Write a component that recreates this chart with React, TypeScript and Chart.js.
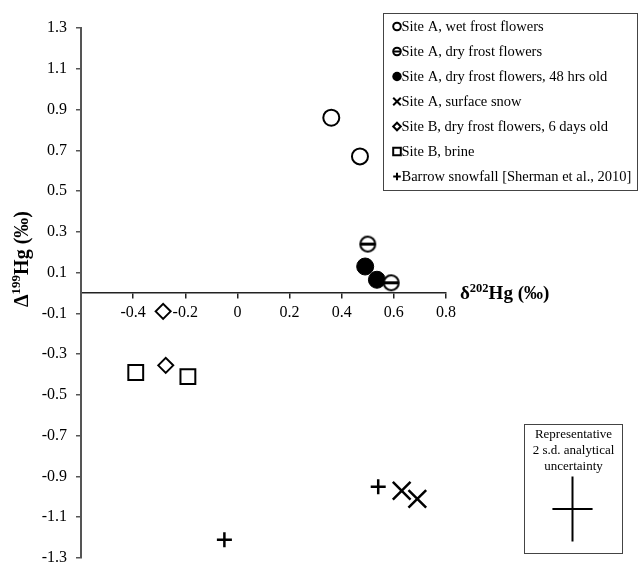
import React, { useEffect, useRef } from 'react';
import { Chart, registerables } from 'chart.js';

Chart.register(...registerables);

// ---------- data ----------
const seriesLabels = [
  'Site A, wet frost flowers',
  'Site A, dry frost flowers',
  'Site A, dry frost flowers, 48 hrs old',
  'Site A, surface snow',
  'Site B, dry frost flowers, 6 days old',
  'Site B, brine',
  'Barrow snowfall [Sherman et al., 2010]',
];
const wetX = [0.36, 0.47];
const wetY = [0.86, 0.67];
const dryX = [0.5, 0.59];
const dryY = [0.24, 0.05];
const old48X = [0.49, 0.535];
const old48Y = [0.13, 0.065];
const snowX = [0.63, 0.69];
const snowY = [-0.97, -1.01];
const siteBffX = [-0.285, -0.275];
const siteBffY = [-0.09, -0.355];
const brineX = [-0.39, -0.19];
const brineY = [-0.39, -0.41];
const barrowX = [0.54, -0.05];
const barrowY = [-0.95, -1.21];

const xTickMin = -0.6;
const xTickMax = 0.8;
const yTickMin = -1.3;
const yTickMax = 1.3;
const tickStep = 0.2;

const uncertaintyLines = ['Representative', '2 s.d. analytical', 'uncertainty'];
const uncertaintyHalfX = 0.077;
const uncertaintyHalfY = 0.16;

const FONT = '"Liberation Serif", "Times New Roman", serif';

const zip = (xs: number[], ys: number[]) => xs.map((x, i) => ({ x, y: ys[i] }));

function thetaImage(r: number, lw: number, bar: number) {
  const size = Math.ceil(2 * r + lw + 2);
  const c = document.createElement('canvas');
  c.width = size;
  c.height = size;
  const ctx = c.getContext('2d')!;
  const cx = size / 2;
  ctx.beginPath();
  ctx.arc(cx, cx, r, 0, Math.PI * 2);
  ctx.fillStyle = '#fff';
  ctx.fill();
  ctx.lineWidth = lw;
  ctx.strokeStyle = '#000';
  ctx.stroke();
  ctx.beginPath();
  ctx.moveTo(cx - r, cx);
  ctx.lineTo(cx + r, cx);
  ctx.lineWidth = bar;
  ctx.stroke();
  return c;
}

type Part = { t: string; size: number; dy?: number };

function richWidth(ctx: CanvasRenderingContext2D, parts: Part[], bold: boolean) {
  let w = 0;
  for (const p of parts) {
    ctx.font = `${bold ? 'bold ' : ''}${p.size}px ${FONT}`;
    w += ctx.measureText(p.t).width;
  }
  return w;
}

function drawRich(ctx: CanvasRenderingContext2D, parts: Part[], x: number, y: number, bold: boolean) {
  let cx = x;
  ctx.textBaseline = 'alphabetic';
  ctx.textAlign = 'left';
  for (const p of parts) {
    ctx.font = `${bold ? 'bold ' : ''}${p.size}px ${FONT}`;
    ctx.fillText(p.t, cx, y + (p.dy || 0));
    cx += ctx.measureText(p.t).width;
  }
}

function drawLegendMarker(ctx: CanvasRenderingContext2D, kind: number, x: number, y: number) {
  ctx.save();
  ctx.strokeStyle = '#000';
  ctx.fillStyle = '#000';
  ctx.lineWidth = 2;
  const r = 3.8;
  ctx.beginPath();
  switch (kind) {
    case 0:
      ctx.arc(x, y, r, 0, Math.PI * 2);
      ctx.stroke();
      break;
    case 1:
      ctx.arc(x, y, r, 0, Math.PI * 2);
      ctx.stroke();
      ctx.beginPath();
      ctx.moveTo(x - r, y);
      ctx.lineTo(x + r, y);
      ctx.stroke();
      break;
    case 2:
      ctx.arc(x, y, r + 0.9, 0, Math.PI * 2);
      ctx.fill();
      break;
    case 3:
      ctx.moveTo(x - r, y - r);
      ctx.lineTo(x + r, y + r);
      ctx.moveTo(x + r, y - r);
      ctx.lineTo(x - r, y + r);
      ctx.stroke();
      break;
    case 4:
      ctx.moveTo(x, y - r);
      ctx.lineTo(x + r, y);
      ctx.lineTo(x, y + r);
      ctx.lineTo(x - r, y);
      ctx.closePath();
      ctx.stroke();
      break;
    case 5:
      ctx.rect(x - r, y - r, 2 * r, 2 * r);
      ctx.stroke();
      break;
    case 6:
      ctx.moveTo(x - r, y);
      ctx.lineTo(x + r, y);
      ctx.moveTo(x, y - r);
      ctx.lineTo(x, y + r);
      ctx.stroke();
      break;
  }
  ctx.restore();
}

const annotationPlugin = {
  id: 'annotations',
  afterDraw(chart: any) {
    const ctx: CanvasRenderingContext2D = chart.ctx;
    const xs = chart.scales.x;
    const ys = chart.scales.y;
    ctx.save();
    ctx.fillStyle = '#000';

    // x-axis title
    const y0 = ys.getPixelForValue(0);
    drawRich(
      ctx,
      [
        { t: 'δ', size: 19 },
        { t: '202', size: 12.5, dy: -7.5 },
        { t: 'Hg (‰)', size: 19 },
      ],
      xs.right + 14,
      y0 + 6,
      true
    );

    // y-axis title (rotated)
    const yParts: Part[] = [
      { t: 'Δ', size: 20 },
      { t: '199', size: 13, dy: -8 },
      { t: 'Hg (‰)', size: 20 },
    ];
    const w = richWidth(ctx, yParts, true);
    ctx.save();
    ctx.translate(28, 259);
    ctx.rotate(-Math.PI / 2);
    drawRich(ctx, yParts, -w / 2, 0, true);
    ctx.restore();

    // legend box
    const lx = 383.5, ly = 13.5, lw = 254, lh = 177;
    ctx.strokeStyle = '#444';
    ctx.lineWidth = 1;
    ctx.strokeRect(lx, ly, lw, lh);
    ctx.font = `14.5px ${FONT}`;
    ctx.textBaseline = 'middle';
    ctx.textAlign = 'left';
    seriesLabels.forEach((label, i) => {
      const yy = 26.5 + i * 25;
      drawLegendMarker(ctx, i, 397, yy);
      ctx.fillStyle = '#000';
      ctx.fillText(label, 401.5, yy + 0.5);
    });

    // uncertainty box
    const bx = 524.5, by = 424.5, bw = 98, bh = 129;
    ctx.strokeStyle = '#444';
    ctx.lineWidth = 1;
    ctx.strokeRect(bx, by, bw, bh);
    ctx.font = `13px ${FONT}`;
    ctx.textAlign = 'center';
    ctx.textBaseline = 'middle';
    uncertaintyLines.forEach((t, i) => {
      ctx.fillText(t, bx + bw / 2, 435 + i * 16);
    });
    const cx = 572.5, cy = 509;
    const hx = xs.getPixelForValue(uncertaintyHalfX) - xs.getPixelForValue(0);
    const hy = ys.getPixelForValue(0) - ys.getPixelForValue(uncertaintyHalfY);
    ctx.strokeStyle = '#000';
    ctx.lineWidth = 2;
    ctx.beginPath();
    ctx.moveTo(cx - hx, cy);
    ctx.lineTo(cx + hx, cy);
    ctx.moveTo(cx, cy - hy);
    ctx.lineTo(cx, cy + hy);
    ctx.stroke();
    ctx.restore();
  },
};

export default function App() {
  const ref = useRef<HTMLCanvasElement | null>(null);
  useEffect(() => {
    if (!ref.current) return;
    const theta = thetaImage(7.5, 2, 3);
    const chart = new Chart(ref.current, {
      type: 'scatter',
      data: {
        datasets: [
          {
            label: seriesLabels[0],
            data: zip(wetX, wetY),
            pointStyle: 'circle',
            pointRadius: 8,
            pointBorderWidth: 2,
            backgroundColor: '#fff',
            borderColor: '#000',
          },
          {
            label: seriesLabels[1],
            data: zip(dryX, dryY),
            pointStyle: theta as any,
            pointRadius: 8,
            backgroundColor: '#fff',
            borderColor: '#000',
          },
          {
            label: seriesLabels[2],
            data: zip(old48X, old48Y),
            pointStyle: 'circle',
            pointRadius: 8.5,
            pointBorderWidth: 1,
            backgroundColor: '#000',
            borderColor: '#000',
          },
          {
            label: seriesLabels[3],
            data: zip(snowX, snowY),
            pointStyle: 'crossRot',
            pointRadius: 12.5,
            pointBorderWidth: 2.5,
            backgroundColor: '#000',
            borderColor: '#000',
          },
          {
            label: seriesLabels[4],
            data: zip(siteBffX, siteBffY),
            pointStyle: 'rectRot',
            pointRadius: 7.5,
            pointBorderWidth: 2,
            backgroundColor: '#fff',
            borderColor: '#000',
          },
          {
            label: seriesLabels[5],
            data: zip(brineX, brineY),
            pointStyle: 'rect',
            pointRadius: 10.5,
            pointBorderWidth: 2,
            backgroundColor: '#fff',
            borderColor: '#000',
          },
          {
            label: seriesLabels[6],
            data: zip(barrowX, barrowY),
            pointStyle: 'cross',
            pointRadius: 7.5,
            pointBorderWidth: 2.5,
            backgroundColor: '#000',
            borderColor: '#000',
          },
        ],
      },
      options: {
        responsive: false,
        animation: false,
        layout: { autoPadding: false, padding: { left: 0, top: 28, right: 194, bottom: 7 } },
        plugins: {
          legend: { display: false },
          tooltip: { enabled: false },
        },
        scales: {
          x: {
            type: 'linear',
            position: { y: 0 } as any,
            min: xTickMin,
            max: xTickMax,
            afterFit: (s: any) => {
              s.height = 0;
              s.paddingTop = 0;
              s.paddingBottom = 0;
              s.paddingLeft = 0;
              s.paddingRight = 0;
            },
            afterBuildTicks: (s: any) => {
              s.ticks = s.ticks.filter((t: any) => t.value > xTickMin + 0.01);
            },
            ticks: {
              stepSize: tickStep,
              padding: 5,
              color: '#000',
              font: { family: FONT, size: 16 },
              maxRotation: 0,
              autoSkip: false,
              callback: (v: any) => (Math.abs(v) < 1e-9 ? '0' : Number(v).toFixed(1)),
            },
            grid: { display: true, drawOnChartArea: false, drawTicks: true, tickLength: 5, color: '#222', lineWidth: 1.5 },
            border: { display: true, color: '#222', width: 1.5 },
          },
          y: {
            type: 'linear',
            position: 'left',
            min: yTickMin,
            max: yTickMax,
            afterFit: (s: any) => {
              s.width = 81;
              s.paddingTop = 0;
              s.paddingBottom = 0;
              s.paddingLeft = 0;
              s.paddingRight = 0;
            },
            ticks: {
              stepSize: tickStep,
              padding: 9,
              color: '#000',
              font: { family: FONT, size: 16 },
              autoSkip: false,
              callback: (v: any) => Number(v).toFixed(1),
            },
            grid: { display: true, drawOnChartArea: false, drawTicks: true, tickLength: 5, color: '#555', lineWidth: 1.5 },
            border: { display: true, color: '#555', width: 2 },
          },
        },
      },
      plugins: [annotationPlugin],
    });
    return () => chart.destroy();
  }, []);
  return (
    <div style={{ position: 'absolute', left: 0, top: 0, width: 640, height: 565, background: '#fff' }}>
      <canvas ref={ref} width={640} height={565} />
    </div>
  );
}
